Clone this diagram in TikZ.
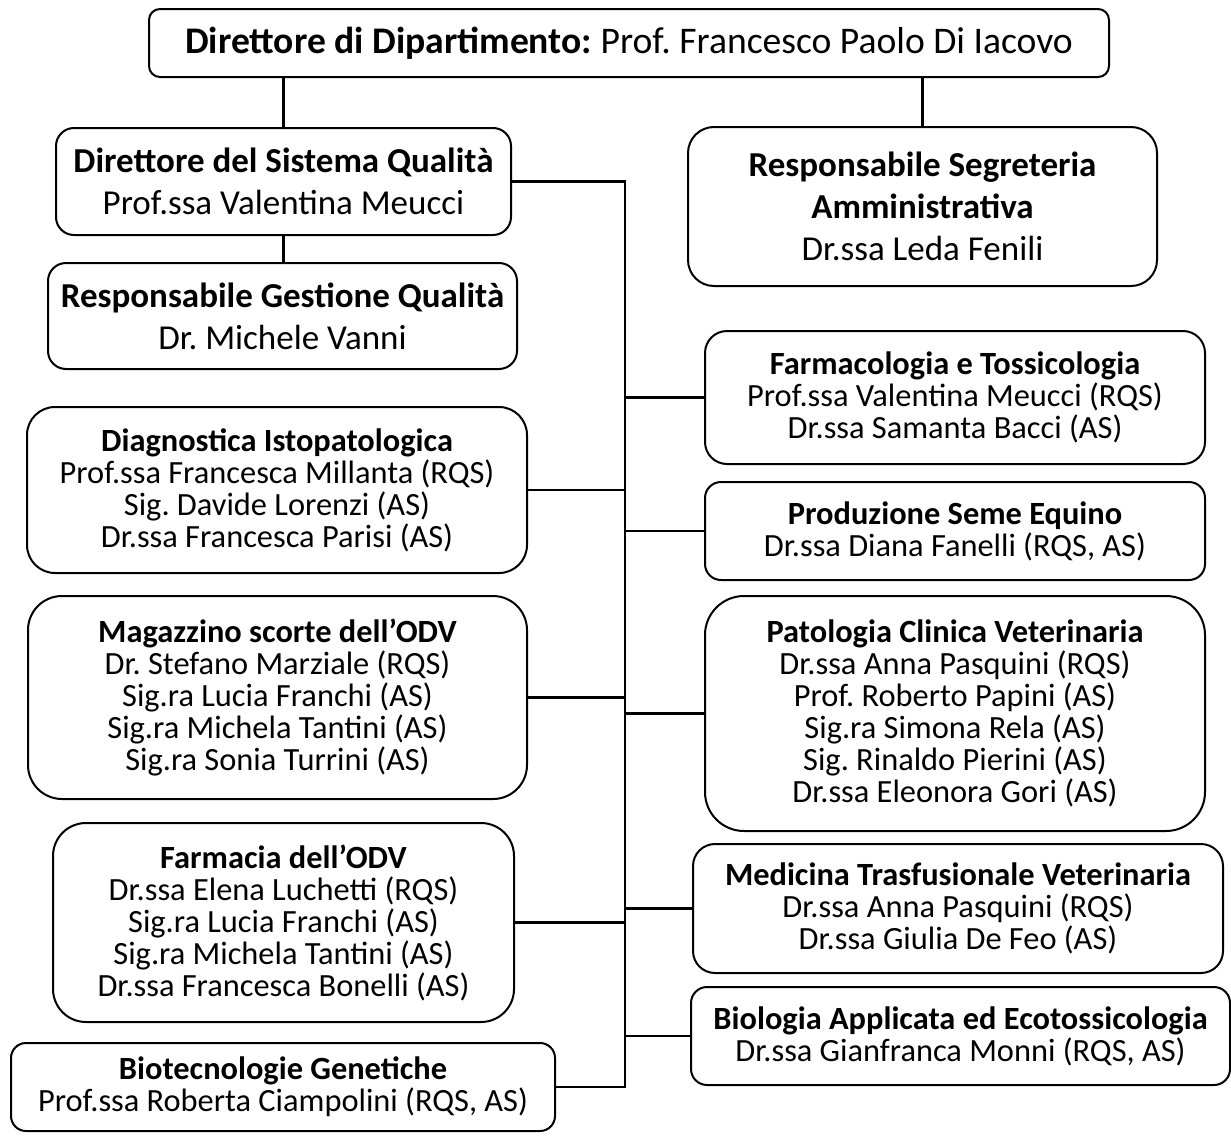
\documentclass[tikz,border=0pt]{standalone}
\usepackage{fontspec}
\setmainfont{Carlito}
\frenchspacing

\begin{document}
\begin{tikzpicture}[x=0.5pt,y=-0.5pt,
      box/.style={draw=black,line width=1pt,align=center,inner sep=0pt},
      link/.style={draw=black,line width=1.1pt},
      big/.style={font=\fontsize{17.5}{21}\selectfont},
      small/.style={font=\fontsize{16.2}{16}\selectfont}
    ]
    \useasboundingbox (0,0) rectangle (1231,1135);

    % Department head
    \node[box,minimum width=480pt,minimum height=34pt,rounded corners=5.5pt,
          font=\fontsize{18.8}{22}\selectfont] (head) at (629,43)
      {\textbf{Direttore di Dipartimento:} Prof. Francesco Paolo Di Iacovo};

    % Second level
    \node[box,big,minimum width=227.5pt,minimum height=53.5pt,rounded corners=9pt] (dsq) at (283.5,181.5)
      {\textbf{Direttore del Sistema Qualità}\\Prof.ssa Valentina Meucci};
    \node[box,big,minimum width=234.5pt,minimum height=79.5pt,rounded corners=13pt] (seg) at (922.5,206.5)
      {\textbf{Responsabile Segreteria}\\\textbf{Amministrativa}\\Dr.ssa Leda Fenili};
    \node[box,big,minimum width=234.5pt,minimum height=53pt,rounded corners=9pt] (rgq) at (282.5,316)
      {\textbf{Responsabile Gestione Qualità}\\Dr. Michele Vanni};

    \draw[link] (dsq.north) -- (dsq.north |- head.south);
    \draw[link] (seg.north) -- (seg.north |- head.south);
    \draw[link] (dsq.south) -- (dsq.south |- rgq.north);

    % Laboratories, left column
    \node[box,small,minimum width=250pt,minimum height=83pt,rounded corners=14pt] (diagn) at (277,490)
      {\textbf{Diagnostica Istopatologica}\\Prof.ssa Francesca Millanta (RQS)\\Sig. Davide Lorenzi (AS)\\Dr.ssa Francesca Parisi (AS)};
    \node[box,small,minimum width=249.5pt,minimum height=101.5pt,rounded corners=17pt] (magaz) at (277.5,697.5)
      {\textbf{Magazzino scorte dell’ODV}\\Dr. Stefano Marziale (RQS)\\Sig.ra Lucia Franchi (AS)\\Sig.ra Michela Tantini (AS)\\Sig.ra Sonia Turrini (AS)};
    \node[box,small,minimum width=230.5pt,minimum height=99.5pt,rounded corners=16.5pt] (farmacia) at (283.5,922.5)
      {\textbf{Farmacia dell’ODV}\\Dr.ssa Elena Luchetti (RQS)\\Sig.ra Lucia Franchi (AS)\\Sig.ra Michela Tantini (AS)\\Dr.ssa Francesca Bonelli (AS)};
    \node[box,small,minimum width=272pt,minimum height=44pt,rounded corners=7.5pt] (biotec) at (283,1087)
      {\textbf{Biotecnologie Genetiche}\\Prof.ssa Roberta Ciampolini (RQS, AS)};

    % Laboratories, right column
    \node[box,small,minimum width=250pt,minimum height=66.5pt,rounded corners=11pt] (farmacol) at (955,397.5)
      {\textbf{Farmacologia e Tossicologia}\\Prof.ssa Valentina Meucci (RQS)\\Dr.ssa Samanta Bacci (AS)};
    \node[box,small,minimum width=250pt,minimum height=49pt,rounded corners=8pt] (seme) at (955,531)
      {\textbf{Produzione Seme Equino}\\Dr.ssa Diana Fanelli (RQS, AS)};
    \node[box,small,minimum width=250pt,minimum height=117.5pt,rounded corners=19.5pt] (patol) at (955,713.5)
      {\textbf{Patologia Clinica Veterinaria}\\Dr.ssa Anna Pasquini (RQS)\\Prof. Roberto Papini (AS)\\Sig.ra Simona Rela (AS)\\Sig. Rinaldo Pierini (AS)\\Dr.ssa Eleonora Gori (AS)};
    \node[box,small,minimum width=265pt,minimum height=64.5pt,rounded corners=11pt] (trasf) at (958,908.5)
      {\textbf{Medicina Trasfusionale Veterinaria}\\Dr.ssa Anna Pasquini (RQS)\\Dr.ssa Giulia De Feo (AS)};
    \node[box,small,minimum width=269.5pt,minimum height=49pt,rounded corners=8pt] (biol) at (960.5,1036)
      {\textbf{Biologia Applicata ed Ecotossicologia}\\Dr.ssa Gianfranca Monni (RQS, AS)};

    % Quality trunk
    \coordinate (trunk) at (625,0);
    \draw[link] (dsq.east) -- (dsq.east -| trunk) -- (biotec.east -| trunk) -- (biotec.east);
    \foreach \lab in {diagn,magaz,farmacia}
      \draw[link] (\lab.east) -- (\lab.east -| trunk);
    \foreach \lab in {farmacol,seme,patol,trasf,biol}
      \draw[link] (\lab.west) -- (\lab.west -| trunk);

  \end{tikzpicture}
\end{document}
